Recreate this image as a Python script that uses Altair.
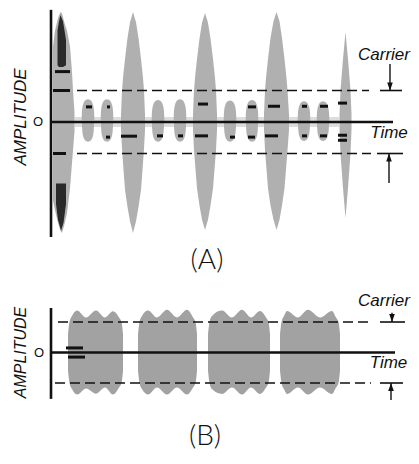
import altair as alt
import pandas as pd

# ================= Panel (A) : pulse-modulated wave =================
# large spindles: group id, time, upper envelope, lower envelope (carrier units)
A_sp_id = [1] * 11 + [2] * 13 + [3] * 13 + [4] * 13 + [5] * 7
A_sp_t = [2, 4, 7, 9.5, 11, 13, 16, 19, 21, 22, 23.5,
          70, 71, 72, 74, 76.5, 79, 82, 85, 87.5, 90, 92, 93, 94,
          142, 143, 144, 146, 148.5, 151, 154, 157, 159.5, 162, 164, 165, 166,
          213, 214, 215, 217, 219.5, 222.5, 225.5, 228.5, 231, 233.5, 235.5, 236.5, 238,
          288.5, 289.5, 292, 294.5, 297, 299.5, 300.5]
A_sp_hi = [2.4, 2.9, 3.3, 3.49, 3.45, 3.2, 2.9, 2.4, 1.59, 1.0, 0.3,
           0.25, 1.0, 1.4, 2.0, 2.67, 3.17, 3.49, 3.17, 2.67, 2.0, 1.4, 1.0, 0.25,
           0.25, 1.0, 1.4, 2.0, 2.65, 3.15, 3.46, 3.15, 2.65, 2.0, 1.4, 1.0, 0.25,
           0.25, 1.0, 1.4, 2.0, 2.67, 3.2, 3.49, 3.2, 2.67, 2.0, 1.4, 1.0, 0.25,
           0.25, 1.0, 2.0, 2.86, 2.0, 1.0, 0.25]
A_sp_lo = [-2.5, -2.8, -3.2, -3.45, -3.52, -3.3, -2.9, -2.1, -1.3, -0.9, -0.3,
           -0.25, -0.85, -1.3, -2.15, -2.7, -3.15, -3.52, -3.15, -2.7, -2.15, -1.3, -0.85, -0.25,
           -0.25, -0.9, -1.3, -2.1, -2.65, -3.1, -3.43, -3.1, -2.65, -2.1, -1.3, -0.9, -0.25,
           -0.25, -0.9, -1.3, -2.1, -2.65, -3.1, -3.43, -3.1, -2.65, -2.1, -1.3, -0.9, -0.25,
           -0.25, -1.0, -2.1, -3.05, -2.1, -1.0, -0.25]

# dark (over-inked) patches on the first spindle
A_dk_id = [1] * 5 + [2] * 5
A_dk_t = [6.5, 8, 9.5, 12, 15, 5, 7, 10, 12.5, 15]
A_dk_hi = [2.9, 3.2, 3.4, 3.2, 2.6, -1.95, -1.95, -1.95, -1.95, -1.95]
A_dk_lo = [1.8, 1.75, 1.75, 1.75, 1.8, -2.6, -3.1, -3.45, -3.2, -2.6]

# small modulation bumps between the spindles
A_bump_t = [37, 56, 107, 129, 179, 201, 253, 272]
A_bump_top = [0.72, 0.72, 0.7, 0.72, 0.68, 0.7, 0.66, 0.66]
A_bump_bot = [-0.63, -0.63, -0.63, -0.63, -0.63, -0.63, -0.6, -0.6]

# residual low-level band
A_band_t = [23.5, 288]
A_band_hi = [0.16, 0.16]
A_band_lo = [-0.16, -0.16]

# heavy ink dashes (scan artefacts)
A_ink_t1 = [2, 4, 2, 70, 147, 144, 217, 214, 287, 287, 287, 35, 56, 55, 106, 127, 197, 179, 197, 251, 269, 251, 269]
A_ink_t2 = [19, 19, 15, 86, 157, 157, 229, 227, 296, 296, 296, 41, 59, 59, 112, 132, 205, 184, 204, 256, 277, 256, 276]
A_ink_amp = [1.0, 1.6, -1.0, -0.45, 0.57, -0.44, 0.5, -0.44, 0.6, -0.42, -0.58,
             0.48, 0.48, -0.48, -0.44, -0.44, 0.48, -0.48, -0.48, 0.5, 0.5, -0.44, -0.44]

A_dash_t1 = [26, 26]
A_dash_t2 = [318, 320]
A_dash_amp = [1.0, -1.0]
A_solid_t1 = [329, 326]
A_solid_t2 = [351, 352]
A_solid_amp = [1.0, -1.0]
A_zero_t = [0, 342]
A_axis_amp = [-3.65, 3.56]
A_arrow_t = [339, 338]
A_arrow_from = [1.84, -1.94]
A_arrow_to = [1.0, -1.0]

A_lbl_text = ["Carrier", "Time"]
A_lbl_t = [333, 338]
A_lbl_amp = [2.12, -0.35]
A_ylab_t, A_ylab_amp = -30, 0.16
A_zero_lbl_t = -13
A_title_t, A_title_amp = 156, -4.41

# ================= Panel (B) : steady bursts =================
B_bu_id = [1] * 11 + [2] * 11 + [3] * 11 + [4] * 11
B_bu_t = [17, 18.5, 21, 26, 35, 45, 54, 62, 68, 70.5, 72,
          87, 88.5, 91, 97, 106, 116, 126, 136, 142, 144.5, 146,
          157, 158.5, 161, 171, 181, 191, 200, 209, 215, 217.5, 219,
          229, 230.5, 233, 236, 247, 257, 269, 281, 285, 287.5, 289]
B_bu_hi = [0.6, 1.0, 1.2, 1.38, 1.15, 1.38, 1.15, 1.35, 1.15, 1.0, 0.6,
           0.6, 1.0, 1.2, 1.38, 1.15, 1.4, 1.15, 1.4, 1.15, 1.0, 0.6,
           0.6, 1.0, 1.2, 1.38, 1.15, 1.4, 1.15, 1.36, 1.15, 1.0, 0.6,
           0.6, 1.0, 1.2, 1.36, 1.15, 1.4, 1.15, 1.36, 1.15, 1.0, 0.6]
B_bu_lo = [-0.6, -1.0, -1.2, -1.38, -1.18, -1.35, -1.15, -1.38, -1.15, -1.0, -0.6,
           -0.6, -1.0, -1.2, -1.38, -1.15, -1.38, -1.15, -1.38, -1.15, -1.0, -0.6,
           -0.6, -1.0, -1.2, -1.36, -1.15, -1.38, -1.15, -1.36, -1.15, -1.0, -0.6,
           -0.6, -1.0, -1.2, -1.36, -1.15, -1.38, -1.15, -1.36, -1.15, -1.0, -0.6]

B_ink_t1 = [15, 17]
B_ink_t2 = [32, 34]
B_ink_amp = [0.15, -0.15]

B_dash_t1 = [7, 4]
B_dash_t2 = [318, 320]
B_dash_amp = [1.0, -1.0]
B_solid_t1 = [329, 329]
B_solid_t2 = [354, 352]
B_solid_amp = [1.0, -1.0]
B_zero_t = [0, 344]
B_axis_amp = [-1.52, 1.46]
B_arrow_t = [341, 340]
B_arrow_from = [1.3, -1.56]
B_arrow_to = [1.0, -1.0]

B_lbl_text = ["Carrier", "Time"]
B_lbl_t = [333, 337.5]
B_lbl_amp = [1.68, -0.34]
B_ylab_t, B_ylab_amp = -30, 0.0
B_zero_lbl_t = -12
B_title_t, B_title_amp = 154, -2.78

# ================= building =================
W = 403
X_DOMAIN = [-43, 360]
FILL_A = "#b0b0b0"
FILL_B = "#a2a2a2"
INK = "#111111"
FONT = "Liberation Sans"

UP_BUMP = "M -0.6 2 C -0.6 1 -0.55 0 0 0 C 0.55 0 0.6 1 0.6 2 Z"
DN_BUMP = "M -0.6 -2 C -0.6 -1 -0.55 0 0 0 C 0.55 0 0.6 -1 0.6 -2 Z"
HEAD_DN = "M -0.7 -2 L 0.7 -2 L 0 0 Z"
HEAD_UP = "M -0.7 2 L 0.7 2 L 0 0 Z"


def xenc(field="t"):
    return alt.X(f"{field}:Q", scale=alt.Scale(domain=X_DOMAIN, nice=False, zero=False), axis=None)


def yenc(ydom, field="amp"):
    return alt.Y(f"{field}:Q", scale=alt.Scale(domain=ydom, nice=False, zero=False), axis=None)


def common_layers(ydom, dash_t1, dash_t2, dash_amp, solid_t1, solid_t2, solid_amp,
                  zero_t, axis_amp, arrow_t, arrow_from, arrow_to,
                  lbl_text, lbl_t, lbl_amp, ylab_t, ylab_amp, zero_lbl_t,
                  title_text, title_t, title_amp, ylab_size):
    layers = []
    dashed = pd.DataFrame({"t": dash_t1, "t2": dash_t2, "amp": dash_amp})
    layers.append(alt.Chart(dashed).mark_rule(color=INK, strokeWidth=1.6, strokeDash=[10, 5]).encode(
        x=xenc(), x2="t2:Q", y=yenc(ydom)))
    solid = pd.DataFrame({"t": solid_t1, "t2": solid_t2, "amp": solid_amp})
    layers.append(alt.Chart(solid).mark_rule(color=INK, strokeWidth=1.6).encode(
        x=xenc(), x2="t2:Q", y=yenc(ydom)))
    zero = pd.DataFrame({"t": [zero_t[0]], "t2": [zero_t[1]], "amp": [0.0]})
    layers.append(alt.Chart(zero).mark_rule(color=INK, strokeWidth=2.6).encode(
        x=xenc(), x2="t2:Q", y=yenc(ydom)))
    ax = pd.DataFrame({"t": [0.0], "amp": [axis_amp[0]], "amp2": [axis_amp[1]]})
    layers.append(alt.Chart(ax).mark_rule(color=INK, strokeWidth=2.6).encode(
        x=xenc(), y=yenc(ydom), y2="amp2:Q"))
    arr = pd.DataFrame({"t": arrow_t, "amp": arrow_from, "amp2": arrow_to})
    layers.append(alt.Chart(arr).mark_rule(color=INK, strokeWidth=1.4).encode(
        x=xenc(), y=yenc(ydom), y2="amp2:Q"))
    hd = pd.DataFrame({"t": [arrow_t[0]], "amp": [arrow_to[0]]})
    layers.append(alt.Chart(hd).mark_point(shape=HEAD_DN, filled=True, color=INK, size=64, opacity=1).encode(
        x=xenc(), y=yenc(ydom)))
    hu = pd.DataFrame({"t": [arrow_t[1]], "amp": [arrow_to[1]]})
    layers.append(alt.Chart(hu).mark_point(shape=HEAD_UP, filled=True, color=INK, size=64, opacity=1).encode(
        x=xenc(), y=yenc(ydom)))
    lbl = pd.DataFrame({"t": lbl_t, "amp": lbl_amp, "label": lbl_text})
    layers.append(alt.Chart(lbl).mark_text(font=FONT, fontStyle="italic", fontSize=17, color=INK,
                                            align="center", baseline="middle").encode(
        x=xenc(), y=yenc(ydom), text="label:N"))
    yl = pd.DataFrame({"t": [ylab_t], "amp": [ylab_amp], "label": ["AMPLITUDE"]})
    layers.append(alt.Chart(yl).mark_text(font=FONT, fontStyle="italic", fontSize=ylab_size, color=INK,
                                           angle=270, align="center", baseline="middle").encode(
        x=xenc(), y=yenc(ydom), text="label:N"))
    zl = pd.DataFrame({"t": [zero_lbl_t], "amp": [0.0], "label": ["O"]})
    layers.append(alt.Chart(zl).mark_text(font=FONT, fontSize=13, color=INK,
                                           align="center", baseline="middle").encode(
        x=xenc(), y=yenc(ydom), text="label:N"))
    tl = pd.DataFrame({"t": [title_t], "amp": [title_amp], "label": [title_text]})
    layers.append(alt.Chart(tl).mark_text(font="Lato", fontWeight=300, fontSize=28, color=INK,
                                           align="center", baseline="middle").encode(
        x=xenc(), y=yenc(ydom), text="label:N"))
    return layers


# ---- panel A
YA = [-4.952, 3.619]
spA = pd.DataFrame({"id": A_sp_id, "t": A_sp_t, "amp": A_sp_hi, "amp2": A_sp_lo})
bandA = pd.DataFrame({"t": A_band_t, "amp": A_band_hi, "amp2": A_band_lo})
dkA = pd.DataFrame({"id": A_dk_id, "t": A_dk_t, "amp": A_dk_hi, "amp2": A_dk_lo})
bumpUp = pd.DataFrame({"t": A_bump_t, "amp": A_bump_top})
bumpDn = pd.DataFrame({"t": A_bump_t, "amp": A_bump_bot})
inkA = pd.DataFrame({"t": A_ink_t1, "t2": A_ink_t2, "amp": A_ink_amp})

layersA = [
    alt.Chart(bandA).mark_area(color="#dddddd").encode(x=xenc(), y=yenc(YA), y2="amp2:Q"),
    alt.Chart(spA).mark_area(color=FILL_A).encode(x=xenc(), y=yenc(YA), y2="amp2:Q", detail="id:N"),
    alt.Chart(bumpUp).mark_point(shape=UP_BUMP, filled=True, color=FILL_A, size=441, opacity=1).encode(
        x=xenc(), y=yenc(YA)),
    alt.Chart(bumpDn).mark_point(shape=DN_BUMP, filled=True, color=FILL_A, size=400, opacity=1).encode(
        x=xenc(), y=yenc(YA)),
    alt.Chart(dkA).mark_area(color="#2a2a2a").encode(x=xenc(), y=yenc(YA), y2="amp2:Q", detail="id:N"),
    alt.Chart(inkA).mark_rule(color=INK, strokeWidth=3).encode(x=xenc(), x2="t2:Q", y=yenc(YA)),
] + common_layers(YA, A_dash_t1, A_dash_t2, A_dash_amp, A_solid_t1, A_solid_t2, A_solid_amp,
                  A_zero_t, A_axis_amp, A_arrow_t, A_arrow_from, A_arrow_to,
                  A_lbl_text, A_lbl_t, A_lbl_amp, A_ylab_t, A_ylab_amp, A_zero_lbl_t,
                  "(A)", A_title_t, A_title_amp, 17)

panelA = alt.layer(*layersA).properties(width=W, height=270)

# ---- panel B
YB = [-3.131, 2.443]
buB = pd.DataFrame({"id": B_bu_id, "t": B_bu_t, "amp": B_bu_hi, "amp2": B_bu_lo})
inkB = pd.DataFrame({"t": B_ink_t1, "t2": B_ink_t2, "amp": B_ink_amp})

layersB = [
    alt.Chart(buB).mark_area(color=FILL_B, interpolate="monotone").encode(
        x=xenc(), y=yenc(YB), y2="amp2:Q", detail="id:N"),
    alt.Chart(inkB).mark_rule(color=INK, strokeWidth=3).encode(x=xenc(), x2="t2:Q", y=yenc(YB)),
] + common_layers(YB, B_dash_t1, B_dash_t2, B_dash_amp, B_solid_t1, B_solid_t2, B_solid_amp,
                  B_zero_t, B_axis_amp, B_arrow_t, B_arrow_from, B_arrow_to,
                  B_lbl_text, B_lbl_t, B_lbl_amp, B_ylab_t, B_ylab_amp, B_zero_lbl_t,
                  "(B)", B_title_t, B_title_amp, 16)

panelB = alt.layer(*layersB).properties(width=W, height=170)

chart = alt.vconcat(panelA, panelB, spacing=0).properties(
    padding=0, background="white"
).configure_view(stroke="transparent", strokeWidth=0)

chart.save("out.html", embed_options={"renderer": "svg", "actions": False})
